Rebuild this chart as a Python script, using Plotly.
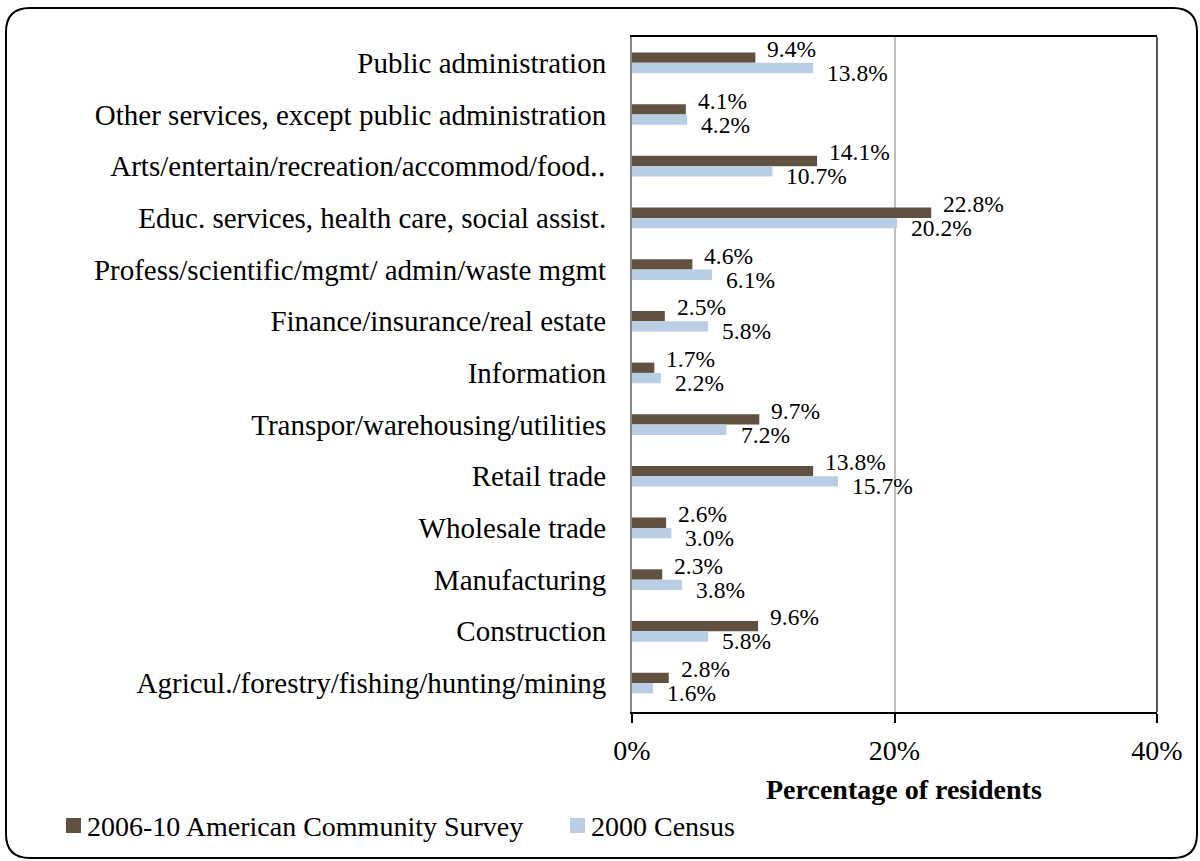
import plotly.graph_objects as go

# Industry categories, listed top to bottom
categories = [
    "Public administration",
    "Other services, except public administration",
    "Arts/entertain/recreation/accommod/food‥",
    "Educ. services, health care, social assist.",
    "Profess/scientific/mgmt/ admin/waste mgmt",
    "Finance/insurance/real estate",
    "Information",
    "Transpor/warehousing/utilities",
    "Retail trade",
    "Wholesale trade",
    "Manufacturing",
    "Construction",
    "Agricul./forestry/fishing/hunting/mining",
]

# Share of employed residents by industry (%)
acs_2006_10 = [9.4, 4.1, 14.1, 22.8, 4.6, 2.5, 1.7, 9.7, 13.8, 2.6, 2.3, 9.6, 2.8]
census_2000 = [13.8, 4.2, 10.7, 20.2, 6.1, 5.8, 2.2, 7.2, 15.7, 3.0, 3.8, 5.8, 1.6]

series_names = ["2006-10 American Community Survey", "2000 Census"]
x_ticks = [0, 20, 40]
axis_title = "Percentage of residents"

BROWN = "#615140"
BLUE = "#B9CDE5"
FONT = "Liberation Serif"

W, H = 1200, 861
PL, PR, PT, PB = 632, 1157, 37, 712  # plot area in pixels


def px_x(px):
    return (px - PL) / (PR - PL)


def px_y(py):
    return (PB - py) / (PB - PT)


fig = go.Figure()
fig.add_trace(go.Bar(
    y=categories, x=acs_2006_10, orientation="h", name=series_names[0],
    marker=dict(color=BROWN, line=dict(width=0)), showlegend=False,
))
fig.add_trace(go.Bar(
    y=categories, x=census_2000, orientation="h", name=series_names[1],
    marker=dict(color=BLUE, line=dict(width=0)), showlegend=False,
))

annotations = []
# Value labels: first series above-right of its bar, second below-right
for cat, a, c in zip(categories, acs_2006_10, census_2000):
    annotations.append(dict(
        x=a, y=cat, xref="x", yref="y", text=f"{a:.1f}%", showarrow=False,
        xanchor="left", yanchor="middle", xshift=10, yshift=14,
        font=dict(family=FONT, size=23.5, color="#000"),
    ))
    annotations.append(dict(
        x=c, y=cat, xref="x", yref="y", text=f"{c:.1f}%", showarrow=False,
        xanchor="left", yanchor="middle", xshift=12, yshift=-10,
        font=dict(family=FONT, size=23.5, color="#000"),
    ))

# Axis title
annotations.append(dict(
    x=px_x(904), y=px_y(789), xref="paper", yref="paper", text=f"<b>{axis_title}</b>",
    showarrow=False, xanchor="center", yanchor="middle",
    font=dict(family=FONT, size=28, color="#000"),
))

# Legend entries
legend_items = [(66, series_names[0], BROWN), (570, series_names[1], BLUE)]
shapes = []
for x0, name, col in legend_items:
    shapes.append(dict(
        type="rect", xref="paper", yref="paper",
        x0=px_x(x0), x1=px_x(x0 + 15), y0=px_y(833), y1=px_y(818),
        fillcolor=col, line=dict(width=0),
    ))
    annotations.append(dict(
        x=px_x(x0 + 19), y=px_y(827), xref="paper", yref="paper", text=name,
        showarrow=False, xanchor="left", yanchor="middle",
        font=dict(family=FONT, size=28, color="#000"),
    ))

# Right edge of the plot frame
shapes.append(dict(
    type="line", xref="paper", yref="paper", x0=1, x1=1, y0=0, y1=1,
    line=dict(color="#222", width=1.5),
))

# Rounded outer frame
bx0, by0, bx1, by1, r = 6, 8, 1197, 858, 24
pts = [
    ("M", bx0 + r, by0), ("L", bx1 - r, by0), ("Q", bx1, by0, bx1, by0 + r),
    ("L", bx1, by1 - r), ("Q", bx1, by1, bx1 - r, by1), ("L", bx0 + r, by1),
    ("Q", bx0, by1, bx0, by1 - r), ("L", bx0, by0 + r), ("Q", bx0, by0, bx0 + r, by0),
]
path = ""
for p in pts:
    cmd = p[0]
    coords = p[1:]
    parts = []
    for i in range(0, len(coords), 2):
        parts.append(f"{px_x(coords[i]):.5f},{px_y(coords[i + 1]):.5f}")
    path += cmd + " ".join(parts) + " "
path += "Z"
shapes.append(dict(
    type="path", xref="paper", yref="paper", path=path,
    line=dict(color="#000", width=2), fillcolor="rgba(0,0,0,0)",
))

fig.update_layout(
    width=W, height=H,
    margin=dict(l=PL, r=W - PR, t=PT, b=H - PB, pad=0),
    paper_bgcolor="white", plot_bgcolor="white",
    barmode="group", bargap=0.6, bargroupgap=0,
    font=dict(family=FONT, color="#000"),
    annotations=annotations, shapes=shapes,
    showlegend=False,
)
fig.update_xaxes(
    range=[0, 40], tickvals=x_ticks, ticktext=[f"{t}%" for t in x_ticks],
    showgrid=True, gridcolor="#BFBFBF", gridwidth=1.5,
    zeroline=False, showline=True, linecolor="#000", linewidth=2, mirror=True,
    ticks="outside", ticklen=9, tickwidth=2, tickcolor="#000",
    tickfont=dict(family=FONT, size=28, color="#000"), ticklabelstandoff=3,
)
fig.update_yaxes(
    categoryorder="array", categoryarray=categories, autorange="reversed",
    showgrid=False, zeroline=False, showline=True, linecolor="#888", linewidth=2,
    ticks="", tickfont=dict(family=FONT, size=29, color="#000"), ticklabelstandoff=18,
)

fig.write_html("out.html")
